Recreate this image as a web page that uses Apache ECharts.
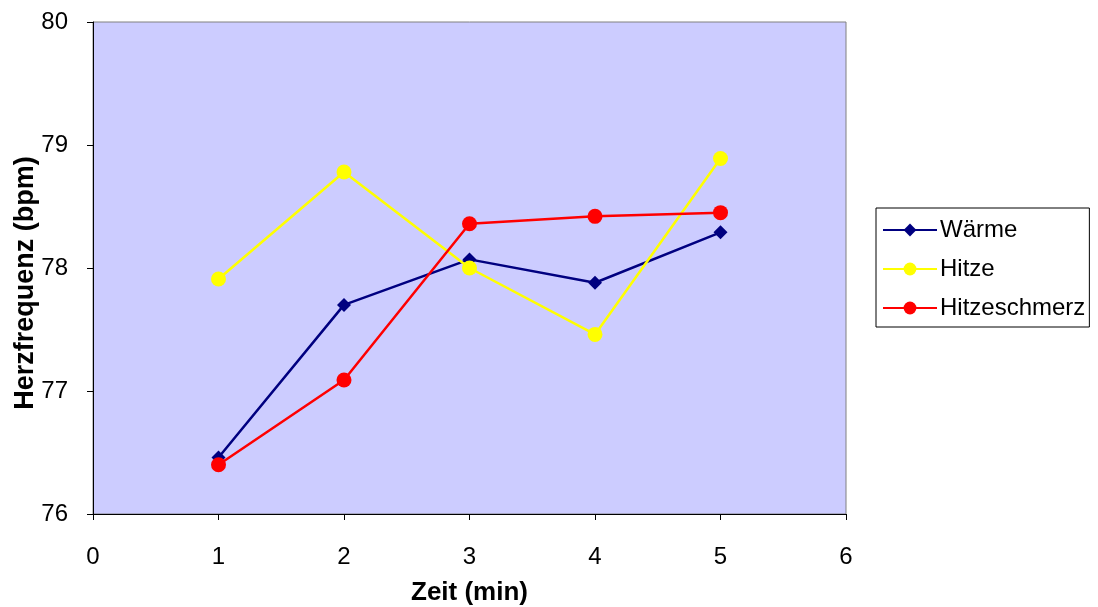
<!DOCTYPE html>
<html>
<head>
<meta charset="utf-8">
<script src="https://cdn.jsdelivr.net/npm/echarts@6/dist/echarts.min.js"></script>
<style>
  html, body { margin: 0; padding: 0; background: #fff; }
  #chart { width: 1098px; height: 607px; }
</style>
</head>
<body>
<div id="chart"></div>
<script>
// Heart rate over time for three stimulus conditions
const zeit = [1, 2, 3, 4, 5];
const waerme = [76.46, 77.70, 78.07, 77.88, 78.29];
const hitze = [77.91, 78.78, 78.00, 77.46, 78.89];
const hitzeschmerz = [76.40, 77.09, 78.36, 78.42, 78.45];

const pairs = (ys) => zeit.map((x, i) => [x, ys[i]]);
const fontFamily = '"Liberation Sans", Arial, sans-serif';

const chart = echarts.init(document.getElementById('chart'));
chart.setOption({
  animation: false,
  textStyle: { fontFamily },
  grid: {
    left: 93, right: 252, top: 22, bottom: 93,
    outerBoundsMode: 'none',
    containLabel: false,
    show: true,
    backgroundColor: '#CCCCFF',
    borderColor: '#808080',
    borderWidth: 1
  },
  xAxis: {
    type: 'value', min: 0, max: 6, interval: 1,
    name: 'Zeit (min)', nameLocation: 'middle', nameGap: 66,
    nameMoveOverlap: false,
    nameTextStyle: { fontSize: 26, fontWeight: 'bold', color: '#000', fontFamily },
    axisLine: { show: true, lineStyle: { color: '#000', width: 1 } },
    axisTick: { show: true, length: 6, lineStyle: { color: '#000' } },
    axisLabel: { fontSize: 24, color: '#000', margin: 31, fontFamily },
    splitLine: { show: false }
  },
  yAxis: {
    type: 'value', min: 76, max: 80, interval: 1,
    name: 'Herzfrequenz (bpm)', nameLocation: 'middle', nameGap: 54,
    nameMoveOverlap: false,
    nameTextStyle: { fontSize: 27, fontWeight: 'bold', color: '#000', fontFamily, padding: [0, 30, 0, 0] },
    axisLine: { show: true, lineStyle: { color: '#000', width: 1 } },
    axisTick: { show: true, length: 6, lineStyle: { color: '#000' } },
    axisLabel: { fontSize: 24, color: '#000', margin: 25, fontFamily },
    splitLine: { show: false }
  },
  legend: {
    orient: 'vertical',
    left: 876, top: 208,
    padding: [10, 4, 7, 6],
    itemGap: 15,
    itemWidth: 54, itemHeight: 16,
    borderColor: '#000', borderWidth: 1,
    backgroundColor: '#fff',
    textStyle: { fontSize: 24, color: '#000', fontFamily, padding: [0, 0, 0, -2] },
    data: ['Wärme', 'Hitze', 'Hitzeschmerz']
  },
  series: [
    {
      name: 'Wärme', type: 'line', data: pairs(waerme),
      symbol: 'diamond', symbolSize: 14,
      lineStyle: { color: '#000080', width: 2.5 },
      itemStyle: { color: '#000080' }
    },
    {
      name: 'Hitze', type: 'line', data: pairs(hitze),
      symbol: 'circle', symbolSize: 15,
      lineStyle: { color: '#FFFF00', width: 2.5 },
      itemStyle: { color: '#FFFF00' }
    },
    {
      name: 'Hitzeschmerz', type: 'line', data: pairs(hitzeschmerz),
      symbol: 'circle', symbolSize: 15,
      lineStyle: { color: '#FF0000', width: 2.5 },
      itemStyle: { color: '#FF0000' }
    }
  ]
});
</script>
</body>
</html>
